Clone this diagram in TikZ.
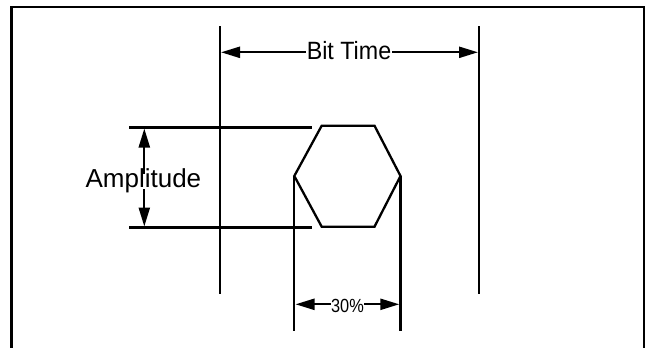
\documentclass[tikz,border=0pt]{standalone}
\usepackage{fontspec}
\setmainfont{Liberation Sans}
\usetikzlibrary{arrows.meta}
\tikzset{
  ln/.style={line width=2.3pt, line cap=butt},
  frame/.style={line width=2.3pt, line join=miter},
  arr/.style={line width=2.3pt, -{Triangle[length=19pt,width=11pt]}, shorten >=0pt},
  lbl/.style={inner sep=0pt, outer sep=0pt, anchor=base, text=black},
}
\begin{document}
\begin{tikzpicture}[x=1pt,y=-1pt]
\useasboundingbox (0,0) rectangle (651,348);
% frame
\coordinate (fbl) at (11.5,348);
\coordinate (ftl) at (11.5,6.7);
\coordinate (ftr) at (644,6.7);
\coordinate (fbr) at (644,348);
\draw[frame] (fbl) -- (ftl) -- (ftr) -- (fbr);
% bit time verticals
\coordinate (blt) at (220,26);
\coordinate (blb) at (220,294);
\coordinate (brt) at (479,26);
\coordinate (brb) at (479,294);
\draw[ln] (blt) -- (blb);
\draw[ln] (brt) -- (brb);
% bit time label and arrows
\coordinate (btL) at (221,52.3);
\coordinate (btR) at (478,52.3);
\node[lbl] (bt) at (349,59) {\fontsize{25}{25}\selectfont\scalebox{0.93}[1]{Bit Time}};
\draw[arr] ([xshift=-1pt]bt.west |- btL) -- (btL);
\draw[arr] ([xshift=1pt]bt.east |- btR) -- (btR);
% amplitude lines
\coordinate (atl) at (129,127.5);
\coordinate (atr) at (311.7,127.5);
\coordinate (abl) at (129,227.5);
\coordinate (abr) at (311.7,227.5);
\draw[ln] (atl) -- (atr);
\draw[ln] (abl) -- (abr);
\coordinate (aT) at (144.3,128.5);
\coordinate (aB) at (144.3,226.5);
\node[lbl] (amp) at (143.4,187.7) {\fontsize{26}{26}\selectfont Amplitude};
\draw[arr] ([yshift=-5pt]amp.north -| aT) -- (aT);
\draw[arr] ([yshift=4pt]amp.south -| aB) -- (aB);
% hexagon
\coordinate (h1) at (294.3,176);
\coordinate (h2) at (321.7,125.7);
\coordinate (h3) at (374.5,125.7);
\coordinate (h4) at (400.5,176);
\coordinate (h5) at (374.5,226.7);
\coordinate (h6) at (321.7,226.7);
\draw[ln, line join=miter] (h1) -- (h2) -- (h3) -- (h4) -- (h5) -- (h6) -- cycle;
% 30% verticals
\coordinate (pl) at (294.3,330.7);
\coordinate (pr) at (400.5,330.7);
\draw[ln] (h1) -- (pl);
\draw[ln] (h4) -- (pr);
\coordinate (pL) at (295.5,304.3);
\coordinate (pR) at (399.3,304.3);
\node[lbl] (pc) at (347.5,312.5) {\fontsize{19}{19}\selectfont\scalebox{0.86}[1]{30\%}};
\draw[arr] ([xshift=-0.5pt]pc.west |- pL) -- (pL);
\draw[arr] ([xshift=0.5pt]pc.east |- pR) -- (pR);
\end{tikzpicture}
\end{document}
